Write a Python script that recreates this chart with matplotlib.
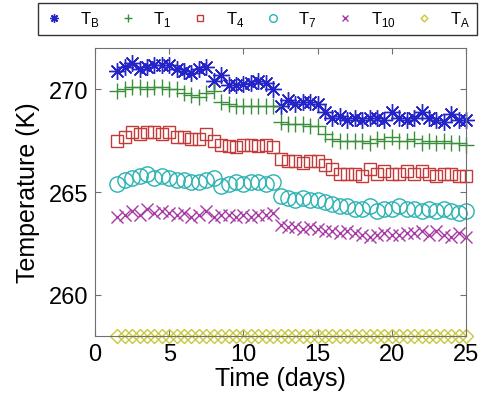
import numpy as np
import matplotlib
matplotlib.use('Agg')
import matplotlib.pyplot as plt

plt.rcParams['font.family'] = ['Liberation Sans', 'DejaVu Sans']
plt.rcParams['mathtext.fontset'] = 'custom'
plt.rcParams['mathtext.rm'] = 'Liberation Sans'

t_days = np.arange(1.5, 25.01, 0.5)

t_b = [270.9, 271.1, 271.3, 271.0, 271.1, 271.2, 271.2, 271.2, 271.0, 270.9,
       270.8, 271.0, 271.1, 270.4, 270.7, 270.2, 270.2, 270.25, 270.3, 270.4,
       270.3, 270.0, 269.2, 269.5, 269.3, 269.4, 269.4, 269.3, 268.9, 268.6,
       268.7, 268.5, 268.6, 268.5, 268.6, 268.6, 268.5, 268.9, 268.6, 268.5,
       268.6, 268.9, 268.6, 268.5, 268.4, 268.8, 268.5, 268.5]
t_1 = [269.9, 270.0, 270.1, 270.1, 270.0, 270.1, 270.1, 270.0, 270.0, 269.8,
       269.7, 269.6, 269.8, 269.9, 269.4, 269.3, 269.2, 269.2, 269.2, 269.2,
       269.2, 269.2, 268.4, 268.3, 268.3, 268.3, 268.2, 268.2, 267.8, 267.6,
       267.5, 267.5, 267.5, 267.5, 267.4, 267.6, 267.5, 267.7, 267.5, 267.5,
       267.6, 267.4, 267.5, 267.4, 267.5, 267.4, 267.4, 267.3]
t_4 = [267.5, 267.7, 267.9, 267.8, 267.9, 267.9, 267.8, 267.9, 267.7, 267.7,
       267.6, 267.6, 267.8, 267.5, 267.3, 267.25, 267.2, 267.3, 267.3, 267.25,
       267.3, 267.2, 266.6, 266.5, 266.5, 266.4, 266.5, 266.5, 266.3, 266.1,
       265.9, 265.9, 265.9, 265.8, 266.1, 265.9, 266.0, 265.9, 265.9, 266.0,
       265.9, 266.0, 265.9, 265.8, 265.9, 265.9, 265.8, 265.8]
t_7 = [265.4, 265.6, 265.7, 265.8, 265.9, 265.7, 265.8, 265.7, 265.6, 265.6,
       265.5, 265.5, 265.6, 265.7, 265.3, 265.4, 265.5, 265.4, 265.5, 265.5,
       265.4, 265.5, 264.8, 264.7, 264.6, 264.7, 264.6, 264.6, 264.5, 264.4,
       264.3, 264.3, 264.2, 264.2, 264.3, 264.1, 264.2, 264.2, 264.3, 264.2,
       264.2, 264.1, 264.2, 264.1, 264.2, 264.1, 264.0, 264.1]
t_10 = [263.8, 263.9, 264.1, 263.9, 264.2, 264.0, 264.1, 264.0, 263.9, 264.0,
        263.8, 263.9, 264.1, 263.8, 263.9, 263.9, 263.8, 263.9, 263.8, 263.9,
        263.9, 264.0, 263.4, 263.3, 263.3, 263.2, 263.3, 263.2, 263.1, 263.1,
        263.0, 263.1, 263.0, 262.9, 262.8, 262.9, 263.0, 262.9, 262.9, 263.0,
        263.0, 263.1, 262.9, 263.1, 262.9, 262.8, 263.0, 262.8]
t_a = [258.0] * len(t_days)

# MATLAB style asterisk: 8 spokes
asterisk = (8, 2, 0)

series = [
    (t_b, r'T$_\mathregular{B}$', asterisk, '#2424c8', 12),
    (t_1, r'T$_\mathregular{1}$', '+', '#3a8f3a', 12),
    (t_4, r'T$_\mathregular{4}$', 's', '#c23a3a', 9),
    (t_7, r'T$_\mathregular{7}$', 'o', '#2ab2b2', 11),
    (t_10, r'T$_\mathregular{10}$', 'x', '#a83aa8', 9),
    (t_a, r'T$_\mathregular{A}$', 'D', '#c8c83a', 7),
]

fig = plt.figure(figsize=(4.81, 4.06), dpi=100)
ax = fig.add_axes([0.1975, 0.170, 0.7715, 0.709])

for vals, lab, mk, col, ms in series:
    ax.plot(t_days, vals, linestyle='none', marker=mk, color=col, markersize=ms,
            markerfacecolor='none', markeredgewidth=1.0, label=lab, clip_on=False)

ax.set_xlim(0, 25)
ax.set_ylim(258, 272)
ax.set_xticks([0, 5, 10, 15, 20, 25])
ax.set_yticks([260, 265, 270])
ax.tick_params(direction='in', length=4, top=True, right=True, labelsize=17,
               color='#707070', pad=5)
for sp in ax.spines.values():
    sp.set_color('#707070')
ax.set_xlabel('Time (days)', fontsize=18, labelpad=1)
ax.set_ylabel('Temperature (K)', fontsize=18, labelpad=6)

leg = fig.legend(loc='center', bbox_to_anchor=(0.535, 0.951), ncol=6,
                 fontsize=12, frameon=True, fancybox=False, edgecolor='black',
                 handlelength=1.1, columnspacing=1.15, markerscale=0.5,
                 borderpad=0.4, handletextpad=1.0)
leg.get_frame().set_linewidth(1.0)

fig.savefig('out.png', dpi=100)
